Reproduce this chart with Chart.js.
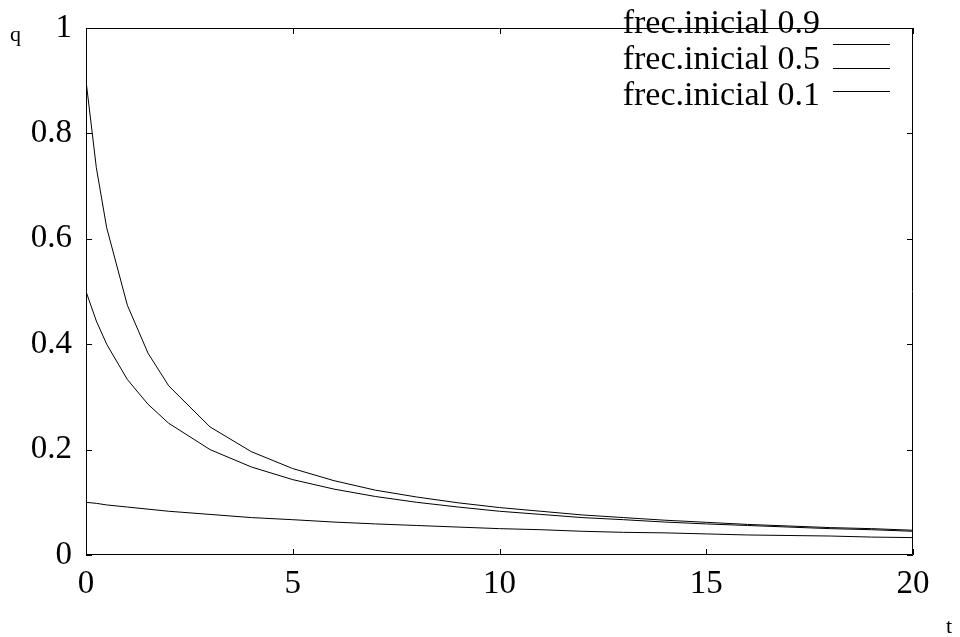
<!DOCTYPE html>
<html>
<head>
<meta charset="utf-8">
<script src="https://cdn.jsdelivr.net/npm/chart.js@4.4.1/dist/chart.umd.min.js"></script>
<style>
  html, body { margin: 0; padding: 0; background: #fff; }
  #wrap { width: 960px; height: 637px; }
</style>
</head>
<body>
<div id="wrap"><canvas id="c" width="960" height="637"></canvas></div>
<script>
// generations
const tValues = [0, 0.25, 0.5, 1, 1.5, 2, 3, 4, 5, 6, 7, 8, 9, 10, 11, 12, 13, 14, 15, 16, 17, 18, 19, 20];
// recessive allele frequency q for each starting frequency
const q09 = [0.900, 0.735, 0.621, 0.474, 0.383, 0.321, 0.243, 0.196, 0.164, 0.141, 0.123, 0.110, 0.099, 0.090, 0.083, 0.076, 0.071, 0.066, 0.062, 0.058, 0.055, 0.052, 0.050, 0.047];
const q05 = [0.500, 0.444, 0.400, 0.333, 0.286, 0.250, 0.200, 0.167, 0.143, 0.125, 0.111, 0.100, 0.091, 0.083, 0.077, 0.071, 0.067, 0.0625, 0.059, 0.056, 0.053, 0.050, 0.048, 0.045];
const q01 = [0.100, 0.098, 0.095, 0.091, 0.087, 0.083, 0.077, 0.071, 0.067, 0.0625, 0.059, 0.056, 0.053, 0.050, 0.048, 0.045, 0.043, 0.042, 0.040, 0.038, 0.037, 0.036, 0.034, 0.033];
const seriesLabels = ['frec.inicial 0.9', 'frec.inicial 0.5', 'frec.inicial 0.1'];
const xTicks = [0, 5, 10, 15, 20];
const yTicks = [0, 0.2, 0.4, 0.6, 0.8, 1];

const SERIF = '"Liberation Serif", "Times New Roman", serif';
const pts = arr => arr.map((v, i) => ({ x: tValues[i], y: v }));

// frame, inward ticks on all four sides, axis names and key
const framePlugin = {
  id: 'frame',
  afterDatasetsDraw(chart) {
    const { ctx, chartArea: a, scales } = chart;
    const xs = scales.x, ys = scales.y;
    ctx.save();
    ctx.strokeStyle = '#000';
    ctx.lineWidth = 1;
    ctx.beginPath();
    ctx.rect(a.left + 0.5, a.top + 0.5, a.right - a.left - 1, a.bottom - a.top - 1);
    ctx.stroke();
    const tl = 6;
    ctx.beginPath();
    xTicks.forEach(v => {
      const px = Math.round(xs.getPixelForValue(v)) + 0.5;
      ctx.moveTo(px, a.bottom); ctx.lineTo(px, a.bottom - tl);
      ctx.moveTo(px, a.top); ctx.lineTo(px, a.top + tl);
    });
    yTicks.forEach(v => {
      const py = Math.round(ys.getPixelForValue(v)) + 0.5;
      ctx.moveTo(a.left, py); ctx.lineTo(a.left + tl, py);
      ctx.moveTo(a.right, py); ctx.lineTo(a.right - tl, py);
    });
    ctx.stroke();

    // axis names
    ctx.fillStyle = '#000';
    ctx.font = '22px ' + SERIF;
    ctx.textAlign = 'left';
    ctx.textBaseline = 'alphabetic';
    ctx.fillText('q', 10, 41);
    ctx.fillText('t', 946, 633);

    // key
    ctx.font = '34px ' + SERIF;
    ctx.textAlign = 'right';
    const baselines = [33, 69, 105];
    const sampleY = [44, 68, 91];
    seriesLabels.forEach((lab, i) => {
      ctx.fillText(lab, 820, baselines[i]);
      ctx.beginPath();
      ctx.moveTo(833, sampleY[i] + 0.5);
      ctx.lineTo(890, sampleY[i] + 0.5);
      ctx.stroke();
    });
    ctx.restore();
  }
};

const lineStyle = { borderColor: '#000', borderWidth: 1, pointRadius: 0, fill: false, tension: 0 };

new Chart(document.getElementById('c'), {
  type: 'line',
  data: {
    datasets: [
      Object.assign({ label: seriesLabels[0], data: pts(q09) }, lineStyle),
      Object.assign({ label: seriesLabels[1], data: pts(q05) }, lineStyle),
      Object.assign({ label: seriesLabels[2], data: pts(q01) }, lineStyle)
    ]
  },
  options: {
    responsive: false,
    animation: false,
    devicePixelRatio: 1,
    layout: { padding: { left: 0, top: 28, right: 47, bottom: 0 } },
    plugins: { legend: { display: false }, tooltip: { enabled: false } },
    scales: {
      x: {
        type: 'linear', min: 0, max: 20,
        afterBuildTicks: s => { s.ticks = xTicks.map(v => ({ value: v })); },
        afterFit: s => { s.height = 82; s.paddingLeft = 0; s.paddingRight = 0; },
        grid: { display: false, drawTicks: false },
        border: { display: false },
        ticks: { color: '#000', padding: 10, maxRotation: 0, font: { family: SERIF, size: 33 } }
      },
      y: {
        type: 'linear', min: 0, max: 1,
        afterBuildTicks: s => { s.ticks = yTicks.map(v => ({ value: v })); },
        afterFit: s => { s.width = 86; s.paddingTop = 0; s.paddingBottom = 0; },
        grid: { display: false, drawTicks: false },
        border: { display: false },
        ticks: { color: '#000', padding: 14, font: { family: SERIF, size: 33 },
                 callback: v => String(v) }
      }
    }
  },
  plugins: [framePlugin]
});
</script>
</body>
</html>
